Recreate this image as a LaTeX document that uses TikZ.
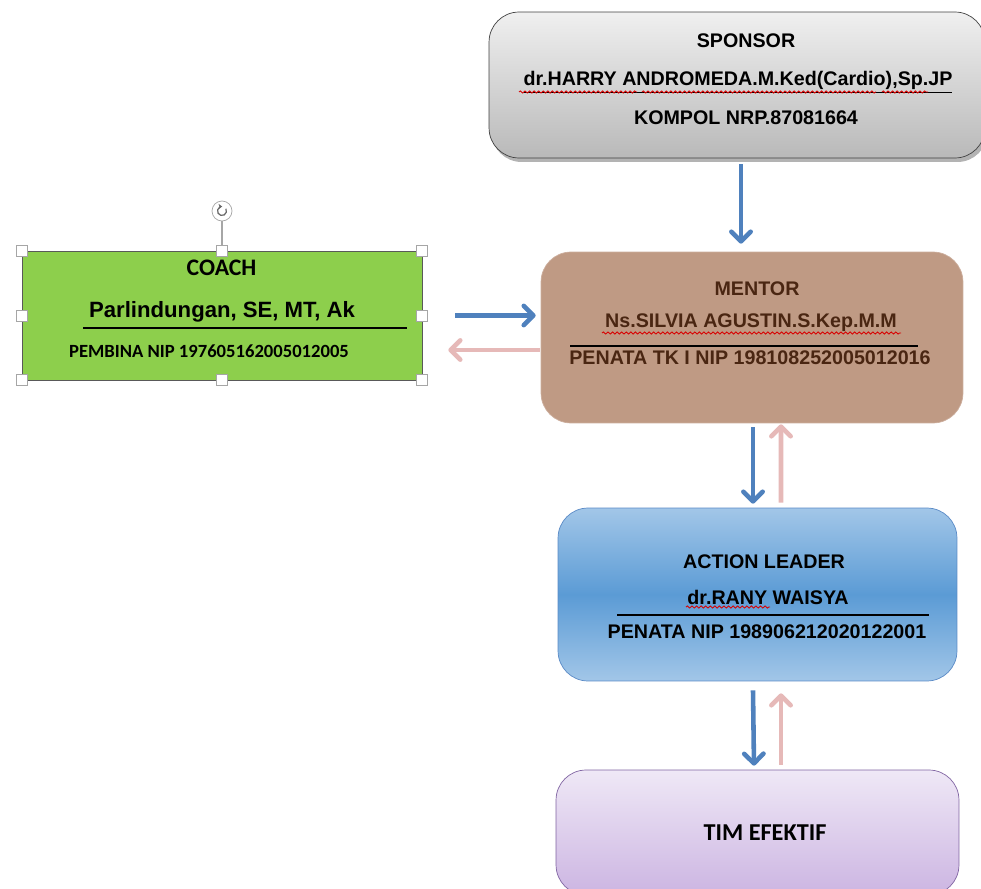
\documentclass[tikz,border=0pt]{standalone}
\usepackage{fontspec}
\setmainfont{Liberation Sans}
\newfontfamily\calibri{Carlito}
\usepackage{tikz}
\usetikzlibrary{arrows.meta,calc,shadows,decorations.pathmorphing}

\definecolor{arrblue}{HTML}{4F81BD}
\definecolor{arrpink}{HTML}{E6B9B8}
\definecolor{coachgreen}{HTML}{8DCF4C}
\definecolor{mentorbrown}{HTML}{BF9A84}
\definecolor{mentortext}{HTML}{4A2612}
\definecolor{leaderlight}{HTML}{A2C6E8}
\definecolor{leaderdark}{HTML}{5B9BD5}
\definecolor{leaderline}{HTML}{5A8AC6}
\definecolor{timtop}{HTML}{EFE8F6}
\definecolor{timbottom}{HTML}{CCB5E2}
\definecolor{timline}{HTML}{8064A2}

\begin{document}
\begin{tikzpicture}[x=0.02cm,y=-0.02cm,
		bluearr/.style={draw=arrblue,line width=2.6pt,-{Straight Barb[length=5.5pt,width=11pt,round]}},
		pinkarr/.style={draw=arrpink,line width=2.6pt,-{Straight Barb[length=5.5pt,width=11pt,round]}},
		txt/.style={font=\bfseries\fontsize{11.2}{13}\selectfont,inner sep=0pt},
		ctxt/.style={font=\calibri\bfseries\fontsize{10.6}{12}\selectfont,inner sep=0pt},
		wavy/.style={draw=red!85!black,line width=0.5pt,decorate,decoration={snake,amplitude=0.6pt,segment length=2.6pt}},
		handle/.style={draw=gray!70,fill=white,minimum size=0.22cm,inner sep=0pt}]
	\useasboundingbox (0,0) rectangle (981,889);

	% boxes
	\node[draw=black!75,rounded corners=0.6cm,top color=gray!12,bottom color=gray!55,
		drop shadow={shadow xshift=0.05cm,shadow yshift=-0.08cm,opacity=0.6},
		minimum width=9.92cm,minimum height=2.92cm] (sponsor) at(737,85){};
	\node[draw=black!65,fill=coachgreen,minimum width=8cm,minimum height=2.58cm] (coach) at(222,315.5){};
	\node[draw=mentorbrown!80!white,fill=mentorbrown,rounded corners=0.6cm,minimum width=8.44cm,minimum height=3.42cm] (mentor) at(752,337.5){};
	\node[draw=leaderline,top color=leaderlight,bottom color=leaderlight,middle color=leaderdark,rounded corners=0.6cm,
		minimum width=7.98cm,minimum height=3.46cm] (leader) at(757.5,594.5){};
	\node[draw=timline,top color=timtop,bottom color=timbottom,rounded corners=0.6cm,
		minimum width=8.06cm,minimum height=2.5cm] (tim) at(757.5,832.5){};

	% sponsor text
	\node[txt] (sptitle) at(746,41){SPONSOR};
	\node[txt] (spname) at(738,82){\underline{dr.HARRY ANDROMEDA.M.Ked(Cardio),Sp.JP}};
	\node[txt] (sprank) at(746,118){KOMPOL NRP.87081664};
	\draw[wavy] (519,92) -- (637,92);
	\draw[wavy] (642,92) -- (876,92);
	\draw[wavy] (882,92) -- (928,92);

	% coach text
	\node[ctxt,font=\calibri\bfseries\fontsize{13.5}{15}\selectfont] (cotitle) at(221.5,268){COACH};
	\node[txt,font=\bfseries\fontsize{12.6}{14}\selectfont] (coname) at(222,312){Parlindungan, SE, MT, Ak};
	\draw[line width=0.9pt] (83,328) -- (407,328);
	\node[ctxt] (conip) at(209,351){PEMBINA NIP 197605162005012005};

	% selection handles of the coach box
	\draw[gray!70,line width=0.6pt] (coach.north) -- (222,221);
	\node[draw=gray!70,fill=white,circle,minimum size=0.4cm,inner sep=0pt] (rot) at(222,211){};
	\draw[gray!80!black,line width=0.7pt,-{Stealth[length=2pt,width=3pt]}] ($(rot)+(-30:4.5)$) arc(-30:270:4.5);
	\foreach \p in {north west,north,north east,west,east,south west,south,south east}
		\node[handle] at(coach.\p){};

	% mentor text
	\node[txt,text=mentortext] (metitle) at(757,289){MENTOR};
	\node[txt,text=mentortext] (mename) at(751,323){Ns.SILVIA AGUSTIN.S.Kep.M.M};
	\draw[wavy] (602,333) -- (901,333);
	\draw[line width=0.9pt] (570,346) -- (918,346);
	\node[txt,text=mentortext] (menip) at(750,358){PENATA TK I NIP 198108252005012016};

	% action leader text
	\node[txt] (letitle) at(764,562){ACTION LEADER};
	\node[txt] (lename) at(768,597){dr.RANY WAISYA};
	\draw[wavy] (686,607) -- (770,607);
	\draw[line width=0.9pt] (617,615) -- (929,615);
	\node[txt] (lenip) at(767,632){PENATA NIP 198906212020122001};

	% tim text
	\node[ctxt,font=\calibri\bfseries\fontsize{13.8}{15}\selectfont] (timtitle) at(765,833){TIM EFEKTIF};

	% arrows
	\draw[bluearr] ($(sponsor.south)+(4,6)$) -- ($(mentor.north)+(-11,-8)$);
	\draw[bluearr] ($(coach.east)+(33,0)$) -- ($(mentor.west)+(-5,-22)$);
	\draw[pinkarr] ($(mentor.west)+(-1,12.5)$) -- ($(coach.east)+(26,34.5)$);
	\draw[bluearr] ($(mentor.south)+(1,4)$) -- ($(leader.north)+(-4.5,-4)$);
	\draw[pinkarr] ($(leader.north)+(23.5,-5)$) -- ($(mentor.south)+(29,1)$);
	\draw[bluearr] ($(leader.south)+(-4.5,9)$) -- ($(tim.north)+(-3.5,-4)$);
	\draw[pinkarr] ($(tim.north)+(23.5,-5)$) -- ($(leader.south)+(23.5,12)$);

\end{tikzpicture}
\end{document}
